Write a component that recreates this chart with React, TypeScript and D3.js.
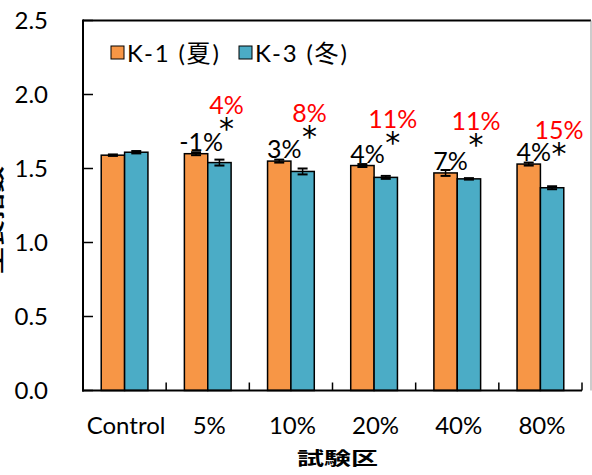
import React from "react";
import * as d3 from "d3";

const categories = ["Control", "5%", "10%", "20%", "40%", "80%"];
const seriesNames = ["K-1 (夏)", "K-3 (冬)"];
const k1Values = [1.59, 1.6, 1.55, 1.52, 1.47, 1.53];
const k3Values = [1.61, 1.54, 1.48, 1.44, 1.43, 1.37];
const k1Errors = [0.005, 0.01, 0.01, 0.01, 0.02, 0.01];
const k3Errors = [0.008, 0.02, 0.02, 0.01, 0.005, 0.01];
const k1Labels = ["", "-1%", "3%", "4%", "7%", "4%"];
const k3Labels = ["", "4%", "8%", "11%", "11%", "15%"];
const significant = [false, true, true, true, true, true];
const yTicks = [0, 0.5, 1.0, 1.5, 2.0, 2.5];

const colors = ["#F79646", "#4BACC6"];
const font = "Lato, 'Noto Sans CJK JP', sans-serif";

export default function App() {
  const width = 592;
  const height = 475;
  const left = 83;
  const right = 582;
  const top = 20.5;
  const bottom = 390.5;

  const y = d3.scaleLinear().domain([0, 2.5]).range([bottom, top]);
  const x0 = d3.scaleBand().domain(categories).range([left, right]).padding(0);
  const x1 = d3
    .scaleBand()
    .domain(seriesNames)
    .range([0, x0.bandwidth()])
    .paddingInner(0)
    .paddingOuter(0.78);

  const series = [
    { name: seriesNames[0], values: k1Values, errors: k1Errors },
    { name: seriesNames[1], values: k3Values, errors: k3Errors },
  ];

  const bw = x1.bandwidth();
  const boundaries = categories.map((c) => x0(c)).concat([right]);

  return (
    <svg
      width={width}
      height={height}
      style={{ position: "absolute", left: 0, top: 0, background: "#fff" }}
    >
      {/* bars */}
      {series.map((s, si) =>
        categories.map((c, i) => {
          const bx = x0(c) + x1(s.name);
          return (
            <g key={s.name + c}>
              <rect
                x={bx}
                y={y(s.values[i])}
                width={bw}
                height={y(0) - y(s.values[i])}
                fill={colors[si]}
                stroke="#000"
                strokeWidth={1.5}
              />
              <line
                x1={bx + bw / 2}
                x2={bx + bw / 2}
                y1={y(s.values[i] - s.errors[i])}
                y2={y(s.values[i] + s.errors[i])}
                stroke="#000"
                strokeWidth={1.5}
              />
              {[s.values[i] - s.errors[i], s.values[i] + s.errors[i]].map((v, k) => (
                <line
                  key={k}
                  x1={bx + bw / 2 - 5}
                  x2={bx + bw / 2 + 5}
                  y1={y(v)}
                  y2={y(v)}
                  stroke="#000"
                  strokeWidth={2}
                />
              ))}
            </g>
          );
        })
      )}

      {/* frame */}
      <line x1={left} x2={591} y1={top} y2={top} stroke="#000" strokeWidth={2} />
      <line x1={591} x2={591} y1={top} y2={bottom} stroke="#999" strokeWidth={1} />
      <line x1={left} x2={left} y1={top - 1} y2={bottom + 1} stroke="#000" strokeWidth={2} />
      <line x1={left - 1} x2={right} y1={bottom} y2={bottom} stroke="#000" strokeWidth={2} />

      {/* y ticks */}
      {yTicks.map((t) => (
        <g key={t}>
          <line x1={left} x2={left + 10} y1={y(t)} y2={y(t)} stroke="#000" strokeWidth={1.5} />
          <text
            x={48}
            y={y(t)}
            dy="0.36em"
            textAnchor="end"
            fontFamily={font}
            fontSize={24}
            fill="#000"
          >
            {t.toFixed(1)}
          </text>
        </g>
      ))}

      {/* x ticks */}
      {boundaries.map((bx, i) => (
        <line key={i} x1={bx} x2={bx} y1={bottom} y2={bottom - 8} stroke="#000" strokeWidth={1.5} />
      ))}
      {categories.map((c) => (
        <text
          key={c}
          x={x0(c) + x0.bandwidth() / 2 + 1.5}
          y={434}
          textAnchor="middle"
          fontFamily={font}
          fontSize={24}
          fill="#000"
        >
          {c}
        </text>
      ))}

      {/* annotations */}
      {categories.map((c, i) => {
        const ox = x0(c) + x1(seriesNames[0]) + bw / 2;
        const bx = x0(c) + x1(seriesNames[1]) + bw / 2;
        const blueTop = y(k3Values[i]);
        return (
          <g key={"ann" + c}>
            {k1Labels[i] && (
              <text
                x={ox + 5}
                y={y(k1Values[i]) - 3}
                textAnchor="middle"
                fontFamily={font}
                fontSize={25}
                fill="#000"
              >
                {k1Labels[i]}
              </text>
            )}
            {k3Labels[i] && (
              <text
                x={bx + 7}
                y={blueTop - 49}
                textAnchor="middle"
                fontFamily={font}
                fontSize={25}
                fill="#FF0000"
              >
                {k3Labels[i]}
              </text>
            )}
            {significant[i] && (
              <text
                x={bx + 7}
                y={blueTop - 41 + 17}
                textAnchor="middle"
                fontFamily="'DejaVu Sans', sans-serif"
                fontSize={30}
                fill="#000"
              >
                *
              </text>
            )}
          </g>
        );
      })}

      {/* legend */}
      {seriesNames.map((n, i) => {
        const lx = i === 0 ? 111 : 239;
        return (
          <g key={n}>
            <rect x={lx} y={46} width={13} height={13} fill={colors[i]} stroke="#000" strokeWidth={1} />
            <text
              x={lx + 16}
              y={53}
              dy="0.36em"
              fontFamily={font}
              fontSize={24}
              letterSpacing={1.8}
              fill="#000"
            >
              {n}
            </text>
          </g>
        );
      })}

      {/* axis titles */}
      <text
        transform="translate(337.5,459) scale(1.5,1)"
        textAnchor="middle"
        dy="0.36em"
        fontFamily="'Noto Sans CJK JP', sans-serif"
        fontWeight="bold"
        fontSize={18}
        fill="#000"
      >
        試験区
      </text>
      <text
        transform="translate(-4,220) rotate(-90) scale(1.5,1)"
        textAnchor="middle"
        dy="0.36em"
        fontFamily="'Noto Sans CJK JP', sans-serif"
        fontWeight="bold"
        fontSize={18}
        fill="#000"
      >
        生長指数
      </text>
    </svg>
  );
}
